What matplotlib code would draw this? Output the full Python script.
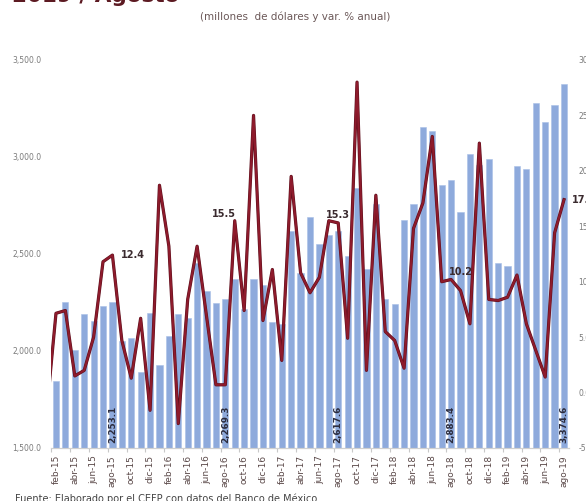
import matplotlib
matplotlib.use("Agg")
import matplotlib.pyplot as plt
import matplotlib.patheffects as pe
from matplotlib.ticker import FuncFormatter, FixedLocator

# ---------------- data ----------------
months = ["feb-15", "mar-15", "abr-15", "may-15", "jun-15", "jul-15", "ago-15", "sep-15", "oct-15", "nov-15", "dic-15",
          "ene-16", "feb-16", "mar-16", "abr-16", "may-16", "jun-16", "jul-16", "ago-16", "sep-16", "oct-16", "nov-16", "dic-16",
          "ene-17", "feb-17", "mar-17", "abr-17", "may-17", "jun-17", "jul-17", "ago-17", "sep-17", "oct-17", "nov-17", "dic-17",
          "ene-18", "feb-18", "mar-18", "abr-18", "may-18", "jun-18", "jul-18", "ago-18", "sep-18", "oct-18", "nov-18", "dic-18",
          "ene-19", "feb-19", "mar-19", "abr-19", "may-19", "jun-19", "jul-19", "ago-19"]

# millones de dolares
valores = [1845, 2252, 2005, 2190, 2155, 2232, 2253.1, 2052, 2067, 1892, 2196,
           1928, 2077, 2190, 2170, 2454, 2309, 2247, 2269.3, 2371, 2216, 2371, 2340,
           2150, 2140, 2619, 2404, 2690, 2551, 2598, 2617.6, 2490, 2842, 2423, 2758,
           2268, 2242, 2675, 2758, 3155, 3136, 2856, 2883.4, 2715, 3015, 2959, 2988,
           2455, 2438, 2955, 2936, 3277, 3182, 3268, 3374.6]

# var. % anual; first value (ene-15) lies just left of the visible area
var_ene15 = -1.8
variacion = [7.15, 7.4, 1.5, 2.0, 5.0, 11.8, 12.4, 4.7, 1.3, 6.7, -1.6,
             18.7, 13.2, -2.8, 8.4, 13.2, 6.9, 0.7, 0.7, 15.5, 7.4, 25.0, 6.5,
             11.1, 2.9, 19.5, 10.8, 9.0, 10.4, 15.5, 15.3, 4.9, 28.0, 2.0, 17.8,
             5.5, 4.7, 2.2, 14.8, 17.1, 23.1, 10.0, 10.2, 9.2, 6.2, 22.5, 8.4,
             8.3, 8.6, 10.6, 6.2, 3.8, 1.4, 14.4, 17.4]

bar_label_idx = [6, 18, 30, 42, 54]
line_label_idx = [6, 19, 30, 42, 54]

# ---------------- figure ----------------
fig = plt.figure(figsize=(5.86, 5.01), dpi=100)
fig.patch.set_facecolor("white")
ax = fig.add_axes([0.0875, 0.1058, 0.883, 0.7745])
ax2 = ax.twinx()

x = list(range(len(months)))
ax.bar(x, valores, width=0.66, color="#8eaadc", edgecolor="#a9bfe6", linewidth=0.4, zorder=2)

xl = [-1] + x
yl = [var_ene15] + variacion
ax2.plot(xl, yl, color="#8e1b2c", linewidth=1.5, solid_joinstyle="round",
         path_effects=[pe.Stroke(linewidth=2.3, foreground="#5e0f1c"), pe.Normal()], zorder=3)

ax.set_xlim(-0.5, len(months) - 0.5)
ax.set_ylim(1500, 3500)
ax2.set_ylim(-5, 30)

ax.yaxis.set_major_locator(FixedLocator([1500, 2000, 2500, 3000, 3500]))
ax.yaxis.set_major_formatter(FuncFormatter(lambda v, p: f"{v:,.1f}"))
ax2.yaxis.set_major_locator(FixedLocator([-5, 0, 5, 10, 15, 20, 25, 30]))
ax2.yaxis.set_major_formatter(FuncFormatter(lambda v, p: f"{v:.1f}"))

for a in (ax, ax2):
    for s in ("top", "left", "right"):
        a.spines[s].set_visible(False)
    a.spines["bottom"].set_color("#d0d0d0")
    a.spines["bottom"].set_linewidth(0.8)

ax.tick_params(axis="y", length=0, labelsize=5.5, labelcolor="#7a7a7a", pad=7)
ax2.tick_params(axis="y", length=0, labelsize=5.5, labelcolor="#7a7a7a", pad=7)

ax.set_xticks(x[::2])
ax.set_xticklabels(months[::2], rotation=90, fontsize=6.5, color="#5a4848")
ax.tick_params(axis="x", which="major", length=0, pad=5)
ax.set_xticks([i - 0.5 for i in x[::2]], minor=True)
ax.tick_params(axis="x", which="minor", length=3, color="#c8c8c8", width=0.8)

# value labels inside bars
for i in bar_label_idx:
    ax.text(i, 1500 + 25, f"{valores[i]:,.1f}", rotation=90, ha="center", va="bottom",
            fontsize=6.3, fontweight="bold", color="#2b2b3c", zorder=4)

# labels of the line
offsets = {6: ((6, 0), "left", "center"),
           19: ((1, 1), "right", "bottom"),
           30: ((0, 2), "center", "bottom"),
           42: ((7, 2), "center", "bottom"),
           54: ((5.5, 0), "left", "center")}
for i in line_label_idx:
    off, ha, va = offsets[i]
    ax2.annotate(f"{variacion[i]:.1f}", xy=(i, variacion[i]), xytext=off, textcoords="offset points",
                 ha=ha, va=va, fontsize=7, fontweight="bold", color="#3a2a2e", zorder=5,
                 annotation_clip=False)

# texts
fig.text(0.02, 1 - 2.5 / 501, "2019 / Agosto", fontsize=15.5, fontweight="bold", color="#5c1a22",
         ha="left", va="baseline")
fig.text(295 / 586, 1 - 17 / 501, "(millones  de dólares y var. % anual)", fontsize=7.5,
         color="#6b5858", ha="center", va="center")
fig.text(15 / 586, (501 - 494) / 501, "Fuente: Elaborado por el CEFP con datos del Banco de México.",
         fontsize=7, color="#444444", ha="left", va="top")

fig.savefig("out.png", dpi=100)
